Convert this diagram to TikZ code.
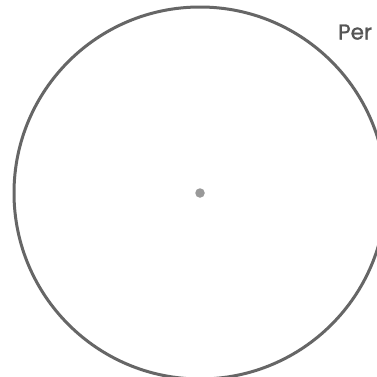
\documentclass[tikz,border=0pt]{standalone}
\usepackage{fontspec}
\newfontfamily\labelfont[FakeBold=1.2]{Poppins}
\definecolor{ringgray}{HTML}{666666}
\definecolor{dotgray}{HTML}{999999}
\definecolor{textgray}{HTML}{555555}
\begin{document}
\begin{tikzpicture}[x=1pt,y=-1pt,
  ring/.style={draw=ringgray,line width=3pt},
  centerdot/.style={circle,fill=dotgray,inner sep=0pt,minimum size=9.5pt},
  lbl/.style={font=\labelfont\fontsize{21.5}{24}\selectfont,text=textgray,inner sep=0pt,anchor=base west}]
\useasboundingbox (0,0) rectangle (377,376);
\clip (0,0) rectangle (377,376);
\fill[white] (0,0) rectangle (377,376);
\node[centerdot] (c) at (200,193) {};
\draw[ring] (c.center) circle[radius=186];
\node[lbl] (t) at (338,39.5) {Per};
\end{tikzpicture}
\end{document}
